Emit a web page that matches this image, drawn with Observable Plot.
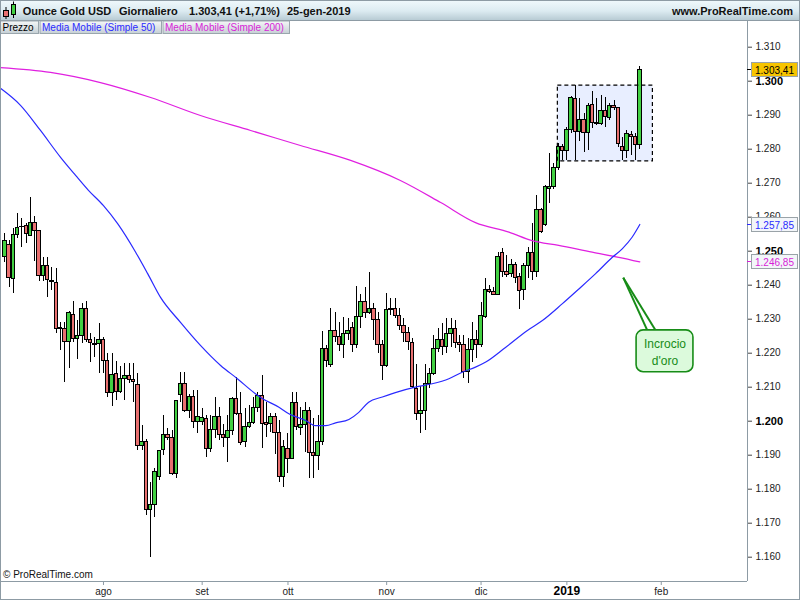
<!DOCTYPE html>
<html><head><meta charset="utf-8">
<script src="https://cdn.jsdelivr.net/npm/d3@7"></script>
<script src="https://cdn.jsdelivr.net/npm/@observablehq/plot@0.6"></script>
<style>
body{margin:0;background:#fff;}
#wrap{position:relative;width:800px;height:600px;overflow:hidden;font-family:"Liberation Sans",Arial,sans-serif;background:#fff;}
#chart{position:absolute;left:0;top:20px;}
#over{position:absolute;left:0;top:0;pointer-events:none;}
</style></head>
<body><div id="wrap"><div id="chart"></div></div>
<script>
// ---- data (daily candles, Ounce Gold USD) ----
const open = [
1248.4,1251.7,1241.9,1254.8,1257.0,1257.3,1254.5,1258.4,1255.8,1242.6,
1245.6,1241.1,1240.7,1227.3,1227.2,1223.4,1231.3,1224.2,1225.1,1233.1,
1223.9,1222.7,1222.6,1223.9,1217.8,1208.4,1213.9,1208.5,1212.5,1213.4,
1212.2,1210.7,1192.8,1193.9,1173.9,1175.4,1183.7,1191.4,1196.0,1195.1,
1184.5,1207.8,1211.0,1202.9,1207.1,1199.9,1199.9,1200.7,1191.9,1197.3,
1201.2,1196.0,1195.1,1197.0,1206.4,1202.2,1194.0,1198.2,1199.5,1203.8,
1207.4,1199.6,1199.2,1201.2,1196.6,1183.7,1191.9,1188.9,1205.4,1197.9,
1198.9,1202.9,1190.7,1189.9,1193.8,1221.3,1216.4,1226.6,1224.9,1222.3,
1225.7,1227.5,1222.3,1230.6,1235.0,1231.8,1233.1,1229.9,1222.5,1216.1,
1232.8,1233.1,1230.9,1227.9,1226.0,1223.1,1209.5,1202.2,1202.9,1211.0,
1213.9,1221.3,1223.9,1221.7,1225.7,1227.2,1223.1,1222.3,1214.4,1220.8,
1224.0,1222.3,1230.6,1238.6,1237.9,1237.2,1249.4,1244.0,1243.4,1245.8,
1242.4,1238.6,1245.6,1249.5,1243.8,1262.0,1257.6,1268.4,1268.8,1274.5,
1280.6,1279.6,1285.7,1294.8,1285.2,1288.6,1284.8,1292.9,1287.8,1287.3,
1291.2,1289.2,1292.8,1292.1,1280.6,1279.6,1284.1,1283.5,1281.3];
const high = [
1255.3,1253.1,1256.7,1261.0,1259.5,1258.1,1265.7,1260.2,1256.1,1248.2,
1248.1,1245.1,1244.8,1229.1,1229.1,1232.3,1235.2,1229.6,1234.5,1235.2,
1225.7,1224.7,1228.6,1224.7,1219.8,1220.0,1217.6,1216.1,1217.1,1217.1,
1217.1,1214.1,1198.6,1194.6,1182.1,1186.1,1191.4,1201.7,1197.9,1197.3,
1206.1,1214.4,1214.4,1207.8,1209.0,1209.0,1203.7,1201.7,1201.7,1207.1,
1204.1,1198.9,1201.7,1207.1,1212.9,1208.5,1203.6,1204.6,1207.1,1208.5,
1213.4,1205.6,1202.2,1202.2,1200.2,1194.3,1196.3,1208.4,1208.4,1204.1,
1205.6,1204.1,1200.8,1201.7,1226.4,1222.3,1233.2,1232.1,1229.1,1230.6,
1230.3,1229.1,1239.5,1237.2,1239.4,1243.6,1234.5,1232.1,1223.7,1237.5,
1236.0,1236.2,1233.1,1230.1,1227.6,1224.4,1216.6,1210.3,1216.6,1215.4,
1225.2,1227.2,1228.6,1230.1,1230.1,1229.6,1225.2,1225.2,1224.2,1228.9,
1226.7,1235.0,1241.9,1239.9,1239.4,1249.7,1250.7,1248.7,1247.5,1246.8,
1243.4,1246.3,1251.0,1258.1,1266.4,1262.5,1269.3,1278.8,1275.8,1281.6,
1281.4,1286.4,1295.5,1298.7,1294.8,1290.4,1293.5,1297.0,1295.0,1295.8,
1295.1,1293.5,1294.3,1292.3,1283.5,1285.5,1285.2,1284.7,1304.3];
const low = [
1246.8,1239.4,1237.6,1253.6,1251.0,1252.4,1254.3,1247.1,1241.2,1241.2,
1236.3,1238.4,1225.9,1220.8,1211.5,1215.6,1223.2,1218.1,1222.9,1223.2,
1217.4,1218.8,1213.9,1214.1,1207.1,1204.4,1206.1,1208.1,1206.1,1211.0,
1205.6,1191.4,1191.4,1172.3,1160.0,1171.8,1182.6,1189.9,1194.3,1184.0,
1183.1,1205.6,1202.6,1200.7,1197.8,1196.3,1198.7,1189.4,1190.9,1195.0,
1194.3,1192.4,1187.8,1195.8,1201.7,1192.9,1192.4,1197.8,1198.9,1202.6,
1191.9,1195.3,1196.8,1190.1,1182.1,1180.6,1184.5,1188.7,1197.3,1195.8,
1190.9,1183.1,1183.1,1185.5,1192.9,1215.9,1215.9,1223.2,1220.5,1218.5,
1223.7,1220.1,1221.5,1227.4,1230.1,1231.4,1223.7,1219.8,1212.0,1215.9,
1231.1,1230.1,1226.7,1223.1,1220.8,1209.5,1200.2,1196.3,1197.3,1209.7,
1213.4,1220.1,1219.3,1219.8,1221.8,1221.5,1220.3,1212.5,1211.0,1217.4,
1218.4,1221.8,1230.1,1237.5,1237.0,1237.0,1242.4,1242.4,1242.2,1240.4,
1232.8,1235.5,1241.9,1241.4,1242.2,1255.1,1257.3,1264.0,1268.0,1273.7,
1276.7,1276.7,1284.6,1276.7,1282.4,1279.1,1279.6,1286.0,1287.0,1287.0,
1286.5,1288.4,1291.4,1280.4,1276.7,1277.2,1278.1,1276.7,1279.8];
const close = [
1252.9,1242.2,1254.8,1256.9,1257.2,1255.1,1258.4,1255.8,1242.6,1245.6,
1241.4,1240.8,1227.2,1227.1,1223.4,1231.9,1224.2,1225.1,1233.1,1223.9,
1223.1,1222.5,1223.9,1217.8,1208.4,1213.7,1208.5,1212.5,1213.4,1212.2,
1211.6,1192.8,1193.9,1173.9,1175.4,1185.2,1191.2,1196.0,1195.1,1184.5,
1206.0,1211.0,1202.9,1207.1,1199.9,1201.2,1200.8,1191.9,1197.3,1201.2,
1196.0,1195.1,1197.0,1206.4,1202.2,1193.6,1198.2,1199.5,1203.8,1207.4,
1199.2,1199.0,1201.2,1196.6,1183.7,1192.4,1188.9,1205.4,1198.2,1198.9,
1202.9,1190.7,1189.9,1193.8,1221.3,1217.6,1226.6,1224.9,1222.3,1225.7,
1226.5,1222.3,1230.6,1235.0,1231.8,1233.1,1229.9,1222.5,1216.1,1232.8,
1233.1,1230.9,1227.9,1226.0,1223.2,1210.0,1202.2,1203.1,1211.0,1213.9,
1221.3,1223.9,1221.7,1225.7,1227.2,1223.1,1222.3,1214.4,1220.8,1224.0,
1222.3,1230.9,1238.6,1237.9,1237.2,1248.2,1244.0,1243.1,1246.0,1242.2,
1238.4,1245.6,1249.5,1243.8,1262.0,1255.6,1268.8,1269.0,1274.5,1280.6,
1279.6,1285.7,1295.1,1285.2,1288.6,1284.8,1292.6,1287.8,1287.3,1291.2,
1289.6,1292.8,1292.1,1281.6,1279.6,1284.5,1283.5,1281.3,1303.41];

// moving averages (candle index, value)
const sma50Idx = [-1.0,3.66,8.32,13.0,16.5,19.5,23.0,26.3,30.5,33.3,36.3,41.0,45.6,50.3,54.2,58.4,60.0,63.9,66.2,70.1,72.4,74.8,77.1,80.2,82.5,84.8,88.0,91.8,95.7,99.6,103.5,106.6,109.7,112.1,116.7,121.8,125.3,129.9,133.8,137.7,141.6,143.9,146.2,148];
const sma50Val = [1297.9,1292.9,1285.5,1277.6,1272.3,1267.9,1263.4,1258.1,1249.7,1243.4,1236.4,1229.0,1222.3,1216.4,1212.5,1208.1,1206.7,1204.1,1202.2,1200.2,1198.7,1198.7,1199.5,1200.5,1202.6,1205.6,1207.1,1208.7,1210.0,1211.0,1212.5,1214.4,1215.9,1217.4,1221.7,1226.7,1229.6,1234.5,1238.9,1243.4,1248.2,1250.7,1254.1,1257.85];
const sma200Idx = [-1.0,10.65,22.3,34.0,45.6,57.3,68.9,80.6,92.2,101.6,109.7,117.5,122.9,129.1,136.9,143.1,148];
const sma200Val = [1304.0,1302.6,1299.6,1295.2,1289.9,1285.5,1281.1,1276.7,1270.8,1264.3,1258.4,1255.6,1253.1,1251.7,1249.7,1248.2,1246.85];

// axis ticks
const yTicks = [1160,1170,1180,1190,1200,1210,1220,1230,1240,1250,1260,1270,1280,1290,1300,1310];
const yTicksBold = [1200,1250,1300];
const monthIdx = [23,46,66,89,111,131,153];
const monthLab = ["ago","set","ott","nov","dic","2019","feb"];
const monthBold = ["2019"];

// annotations (in data units)
const zone = [{x1:128.9, x2:151.05, y1:1276.4, y2:1298.7}];
const callPoint = {x:144.15, y:1242.2};
const callBox = {x1:147.25, x2:160.5, y1:1214.4, y2:1226.7, label:"Incrocio\nd'oro"};
const callFoot = [149.75, 151.7];

const titleParts = ["Ounce Gold USD","Giornaliero","1.303,41 (+1,71%)","25-gen-2019"];

// ---- build ----
const GREEN="#42d042", RED="#e87070", BLUE="#2a2aff", MAG="#e020e0", CALL="#178c17", FRAME="#8d9ba4";
const it = d3.formatLocale({decimal:",", thousands:".", grouping:[3], currency:["€",""]});
const fmtInt = it.format(",.0f"), fmt2 = it.format(",.2f");

const candles = close.map((c,i)=>({i, o:open[i], h:high[i], l:low[i], c}));
const s50 = sma50Idx.map((x,k)=>({x, y:sma50Val[k]}));
const s200 = sma200Idx.map((x,k)=>({x, y:sma200Val[k]}));
const X0=-1.0, X1=173.1, Y0=1152.85, Y1=1317.85;
const wedge = callFoot.map(fx=>({x1:callPoint.x, y1:callPoint.y, x2:fx, y2:callBox.y2}));
const monthRegular = monthIdx.filter((d,k)=>!monthBold.includes(monthLab[k]));
const monthB = monthIdx.filter((d,k)=>monthBold.includes(monthLab[k]));
const labOf = i => monthLab[monthIdx.indexOf(i)];

const chart = Plot.plot({
  width:800, height:580, marginLeft:0, marginRight:53, marginTop:0, marginBottom:19,
  x:{type:"linear", domain:[X0,X1], label:null},
  y:{type:"linear", domain:[Y0,Y1], label:null},
  style:{fontFamily:"'Liberation Sans', Arial, sans-serif", background:"transparent", overflow:"visible", color:"#222"},
  marks:[
    Plot.rect(zone,{x1:"x1",x2:"x2",y1:"y1",y2:"y2",fill:"#e8eeff"}),
    Plot.ruleX(candles,{x:"i",y1:"l",y2:"h",stroke:"#000",strokeWidth:1,shapeRendering:"crispEdges"}),
    Plot.rect(candles,{x1:d=>d.i-0.4,x2:d=>d.i+0.4,y1:"o",y2:"c",fill:d=>d.c>=d.o?GREEN:RED,stroke:"#000",strokeWidth:1,shapeRendering:"crispEdges"}),
    Plot.rect(zone,{x1:"x1",x2:"x2",y1:"y1",y2:"y2",fill:"none",stroke:"#000",strokeDasharray:"4,3",strokeWidth:1.2}),
    Plot.line(s200,{x:"x",y:"y",stroke:MAG,strokeWidth:1.2,curve:"monotone-x"}),
    Plot.line(s50,{x:"x",y:"y",stroke:BLUE,strokeWidth:1.2,curve:"monotone-x"}),
    Plot.link(wedge,{x1:"x1",y1:"y1",x2:"x2",y2:"y2",stroke:CALL,strokeWidth:2}),
    Plot.rect([callBox],{x1:"x1",x2:"x2",y1:"y1",y2:"y2",rx:7,fill:"#dcfadc",stroke:CALL,strokeWidth:1.6}),
    Plot.text([callBox],{x:d=>(d.x1+d.x2)/2,y:d=>(d.y1+d.y2)/2,text:"label",lineHeight:1.42,fill:CALL,fontSize:12}),
    Plot.ruleX([X1],{stroke:FRAME}),
    Plot.ruleY([Y0],{stroke:FRAME}),
    Plot.axisY({anchor:"right",ticks:yTicks.filter(v=>!yTicksBold.includes(v)),tickSize:4,tickPadding:4,tickFormat:fmtInt,fontSize:10,fill:"#222",stroke:"#444",label:null}),
    Plot.axisY({anchor:"right",ticks:yTicksBold,tickSize:4,tickPadding:4,tickFormat:fmtInt,fontSize:11,fontWeight:"bold",fill:"#000",stroke:"#444",label:null}),
    Plot.axisX({anchor:"bottom",ticks:monthRegular,tickFormat:labOf,tickSize:4,tickPadding:2,fontSize:10,fill:"#222",stroke:FRAME,label:null}),
    Plot.axisX({anchor:"bottom",ticks:monthB,tickFormat:labOf,tickSize:4,tickPadding:1,fontSize:12,fontWeight:"bold",fill:"#000",stroke:FRAME,label:null})
  ]
});
document.getElementById("chart").appendChild(chart);

// ---- overlay: header, legend, value tags, frame ----
const ys = chart.scale("y");
const svg = d3.select("#wrap").append("svg").attr("id","over").attr("width",800).attr("height",600)
  .style("font-family","'Liberation Sans', Arial, sans-serif");
const defs = svg.append("defs");
const g1 = defs.append("linearGradient").attr("id","hg").attr("x1",0).attr("x2",0).attr("y1",0).attr("y2",1);
g1.append("stop").attr("offset","0").attr("stop-color","#f0f9fc");
g1.append("stop").attr("offset","0.55").attr("stop-color","#dcebf1");
g1.append("stop").attr("offset","1").attr("stop-color","#b8cbd4");
const g2 = defs.append("linearGradient").attr("id","lg").attr("x1",0).attr("x2",0).attr("y1",0).attr("y2",1);
g2.append("stop").attr("offset","0").attr("stop-color","#f5f7f8");
g2.append("stop").attr("offset","1").attr("stop-color","#c6d0d5");

svg.append("rect").attr("x",0).attr("y",0).attr("width",800).attr("height",20).attr("fill","url(#hg)");
svg.append("line").attr("x1",0).attr("x2",800).attr("y1",20.5).attr("y2",20.5).attr("stroke",FRAME);
// icon
svg.append("line").attr("x1",6).attr("x2",6).attr("y1",7).attr("y2",19).attr("stroke","#000");
svg.append("rect").attr("x",3.5).attr("y",10.5).attr("width",5).attr("height",6).attr("fill",RED).attr("stroke","#000");
svg.append("line").attr("x1",13.5).attr("x2",13.5).attr("y1",1.5).attr("y2",18).attr("stroke","#000");
svg.append("rect").attr("x",11.5).attr("y",4.5).attr("width",4).attr("height",10).attr("fill",GREEN).attr("stroke","#000");
const tx = [22.7,119,189,287];
titleParts.forEach((t,k)=>svg.append("text").attr("x",tx[k]).attr("y",15).attr("font-size",11).attr("font-weight","bold").attr("fill","#111").text(t));
svg.append("text").attr("x",793).attr("y",15).attr("text-anchor","end").attr("font-size",11).attr("font-weight","bold").attr("fill","#111").text("www.ProRealTime.com");

// legend row
const legend = [{t:"Prezzo",c:"#000",x0:0,x1:39},{t:"Media Mobile (Simple 50)",c:BLUE,x0:39.5,x1:162},{t:"Media Mobile (Simple 200)",c:"#d81ed8",x0:162.5,x1:290}];
legend.forEach(l=>{
  svg.append("rect").attr("x",l.x0+0.5).attr("y",21).attr("width",l.x1-l.x0-1).attr("height",12.5).attr("fill","url(#lg)").attr("stroke","#9aa6ad");
  svg.append("text").attr("x",l.x0+2.5).attr("y",31).attr("font-size",10).attr("fill",l.c).text(l.t);
});
svg.append("text").attr("x",3).attr("y",578).attr("font-size",10).attr("fill","#111").text("© ProRealTime.com");

// value tags
const tags = [
  {v:close[close.length-1], fill:"#f7c400", text:"#000", tick:"#000"},
  {v:sma50Val[sma50Val.length-1], fill:"#f3f6f9", text:BLUE, tick:BLUE},
  {v:sma200Val[sma200Val.length-1], fill:"#f3f6f9", text:"#d81ed8", tick:"#d81ed8"}
];
tags.forEach(t=>{
  const py = ys.apply(t.v)+20;
  svg.append("line").attr("x1",747).attr("x2",752).attr("y1",Math.round(py)+0.5).attr("y2",Math.round(py)+0.5).attr("stroke",t.tick);
  svg.append("rect").attr("x",751.5).attr("y",Math.round(py)-6.5).attr("width",46).attr("height",14).attr("fill",t.fill).attr("stroke","#9aa3a8");
  svg.append("text").attr("x",774.5).attr("y",Math.round(py)+4.5).attr("text-anchor","middle").attr("font-size",10).attr("fill",t.text).text(fmt2(t.v));
});
// outer frame
svg.append("rect").attr("x",0.5).attr("y",0.5).attr("width",799).attr("height",599).attr("fill","none").attr("stroke",FRAME);
</script>
</body></html>
